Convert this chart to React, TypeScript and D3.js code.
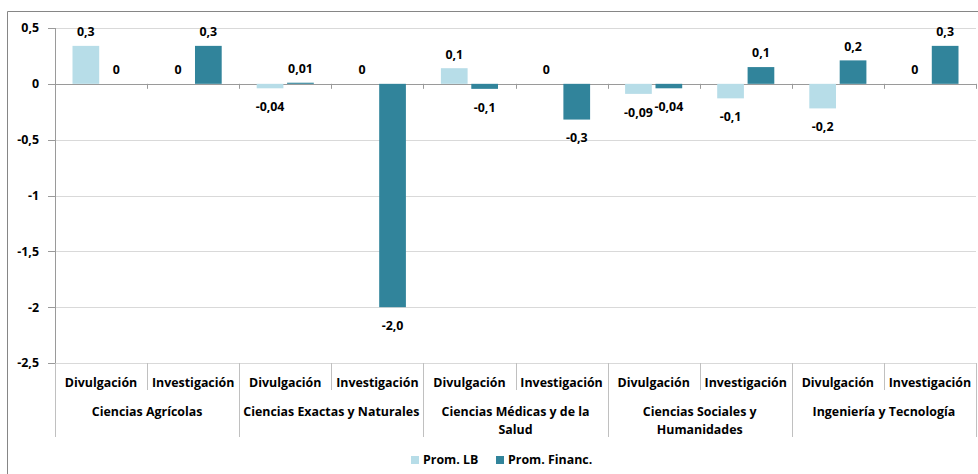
import React from "react";
import * as d3 from "d3";

const subCategories = [
  "Divulgación", "Investigación", "Divulgación", "Investigación", "Divulgación",
  "Investigación", "Divulgación", "Investigación", "Divulgación", "Investigación",
];
const groupLabels = [
  ["Ciencias Agrícolas"],
  ["Ciencias Exactas y Naturales"],
  ["Ciencias Médicas y de la", "Salud"],
  ["Ciencias Sociales y", "Humanidades"],
  ["Ingeniería y Tecnología"],
];
const seriesNames = ["Prom. LB", "Prom. Financ."];
const promLB = [0.34, 0, -0.04, 0, 0.14, 0, -0.09, -0.13, -0.22, 0];
const promFinanc = [0, 0.34, 0.01, -2.0, -0.045, -0.32, -0.04, 0.15, 0.21, 0.34];
const labelsLB = ["0,3", "0", "-0,04", "0", "0,1", "0", "-0,09", "-0,1", "-0,2", "0"];
const labelsFinanc = ["0", "0,3", "0,01", "-2,0", "-0,1", "-0,3", "-0,04", "0,1", "0,2", "0,3"];
const yTicks = [0.5, 0, -0.5, -1, -1.5, -2, -2.5];
const yTickLabels = ["0,5", "0", "-0,5", "-1", "-1,5", "-2", "-2,5"];

const COLORS = ["#b7dde8", "#31849b"];
const FONT = "'Open Sans', 'Noto Sans', sans-serif";
const FS = 12.4;

export default function App() {
  const W = 978, H = 474;
  const left = 55, right = 976, top = 28, bottom = 363;
  const y = d3.scaleLinear().domain([0.5, -2.5]).range([top, bottom]);
  const x = d3.scaleBand<number>().domain(d3.range(subCategories.length)).range([left, right]).padding(0);
  const bw = x.bandwidth();
  const barW = bw * 0.29;
  const gap = bw * 0.04;
  const series = [promLB, promFinanc];
  const labels = [labelsLB, labelsFinanc];
  const y0 = y(0);

  return (
    <svg width={W} height={H} style={{ position: "absolute", left: 0, top: 0 }} fontFamily={FONT}>
      <rect x={0} y={0} width={W} height={H} fill="#fff" />
      {/* outer border */}
      <line x1={7.5} x2={7.5} y1={11.5} y2={H} stroke="#868686" />
      <line x1={7.5} x2={W} y1={11.5} y2={11.5} stroke="#868686" />
      {/* gridlines */}
      {yTicks.map((t, i) => (
        <g key={i}>
          <line x1={left} x2={right} y1={Math.round(y(t)) + 0.5} y2={Math.round(y(t)) + 0.5}
            stroke={t === 0 ? "#9a9a9a" : "#d9d9d9"} />
          <line x1={48} x2={left} y1={Math.round(y(t)) + 0.5} y2={Math.round(y(t)) + 0.5} stroke="#9a9a9a" />
          <text x={39} y={y(t)} dy="0.35em" textAnchor="end" fontSize={FS} fontWeight="bold" fill="#000">
            {yTickLabels[i]}
          </text>
        </g>
      ))}
      {/* y axis line */}
      <line x1={left + 0.5} x2={left + 0.5} y1={top} y2={bottom} stroke="#9a9a9a" />
      {/* bars */}
      {series.map((vals, s) =>
        vals.map((v, i) => {
          const cx = (x(i) as number) + bw / 2;
          const bx = s === 0 ? cx - gap / 2 - barW : cx + gap / 2;
          const yv = y(v);
          return (
            <rect key={`${s}-${i}`} x={bx} y={Math.min(yv, y0)} width={barW}
              height={Math.abs(yv - y0)} fill={COLORS[s]} />
          );
        })
      )}
      {/* x-axis tick marks at zero line */}
      {d3.range(subCategories.length + 1).map((i) => {
        const xx = Math.round(left + i * bw) + 0.5;
        return <line key={i} x1={xx} x2={xx} y1={y0} y2={y0 + 5} stroke="#9a9a9a" />;
      })}
      {/* data labels */}
      {series.map((vals, s) =>
        vals.map((v, i) => {
          const cx = (x(i) as number) + bw / 2;
          const lx = s === 0 ? cx - gap / 2 - barW / 2 : cx + gap / 2 + barW / 2;
          const ly = v >= 0 ? y(v) - 14 : y(v) + 18.5;
          return (
            <text key={`l${s}-${i}`} x={lx} y={ly} dy="0.35em" textAnchor="middle"
              fontSize={FS} fontWeight="bold" fill="#000">
              {labels[s][i]}
            </text>
          );
        })
      )}
      {/* category axis */}
      {d3.range(subCategories.length + 1).map((i) => {
        const xx = Math.round(left + i * bw) + 0.5;
        const isGroup = i % 2 === 0;
        return (
          <line key={`sep${i}`} x1={xx} x2={xx} y1={bottom} y2={isGroup ? 437 : 390} stroke="#c0c0c0" />
        );
      })}
      {subCategories.map((c, i) => (
        <text key={`sc${i}`} x={(x(i) as number) + bw / 2} y={383} dy="0.35em" textAnchor="middle"
          fontSize={FS} fontWeight="bold" fill="#000">
          {c}
        </text>
      ))}
      {groupLabels.map((lines, g) => (
        <text key={`g${g}`} x={left + (g * 2 + 1) * bw} y={412} textAnchor="middle"
          fontSize={FS} fontWeight="bold" fill="#000">
          {lines.map((ln, k) => (
            <tspan key={k} x={left + (g * 2 + 1) * bw} dy={k === 0 ? "0.35em" : 17.6}>{ln}</tspan>
          ))}
        </text>
      ))}
      {/* legend */}
      {seriesNames.map((n, s) => {
        const lx = s === 0 ? 411 : 496;
        return (
          <g key={`leg${s}`}>
            <rect x={lx} y={456} width={8} height={8} fill={COLORS[s]} />
            <text x={lx + 12} y={460} dy="0.35em" fontSize={FS} fontWeight="bold" fill="#000">{n}</text>
          </g>
        );
      })}
    </svg>
  );
}
